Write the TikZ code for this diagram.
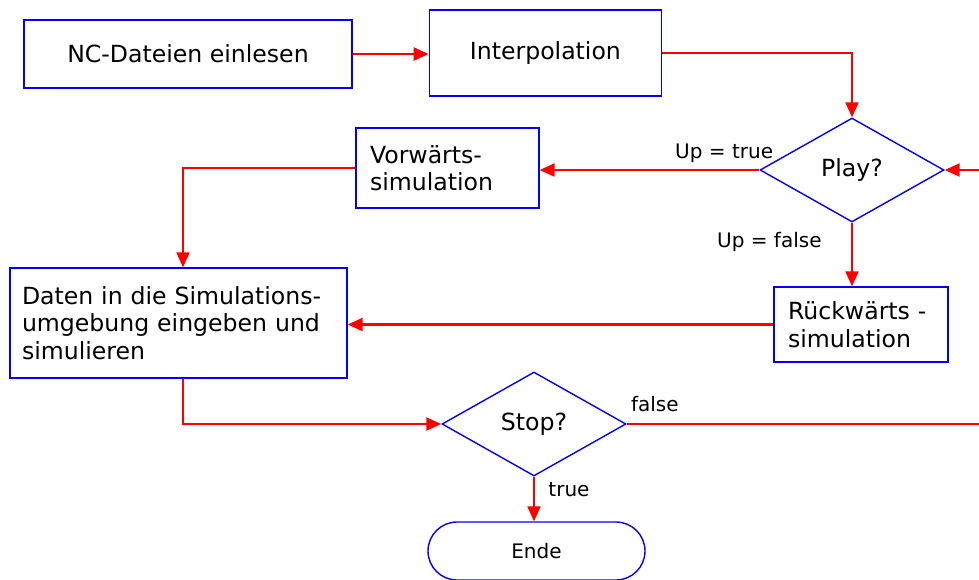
\documentclass[tikz,border=0pt]{standalone}
\usepackage{fontspec}
\setmainfont{DejaVu Sans}
\definecolor{myblue}{RGB}{0, 0, 255}
\definecolor{myred}{RGB}{255, 0, 0}
\usetikzlibrary{arrows.meta, positioning, shapes.geometric}

\tikzset{
	box/.style = {rectangle, draw = myblue, line width = 1.4pt, inner sep = 0pt,
		font = \fontsize{23.6}{27.5}\selectfont},
	decision/.style = {diamond, draw = myblue, line width = 1.4pt, aspect = 1.77,
		inner sep = 0pt, minimum width = 184pt, minimum height = 104pt,
		font = \fontsize{23.6}{27.5}\selectfont},
	flow/.style = {draw = myred, line width = 2.2pt, -{Triangle[length = 15pt, width = 13pt]}},
	lbl/.style = {font = \fontsize{20}{23}\selectfont}
}

\begin{document}
\begin{tikzpicture}[x = 1pt, y = -1pt]
	\useasboundingbox (0, 0) rectangle (979, 580);

	\node[box, minimum width = 328pt, minimum height = 68pt] (nc) at (188, 54) {NC-Dateien einlesen};
	\node[box, minimum width = 232pt, minimum height = 86pt, right = 76pt of nc, yshift = +1pt] (interp) {Interpolation};
	\node[decision] (play) at (852, 170) {Play?};
	\node[box, minimum width = 183pt, minimum height = 80pt, align = left, text width = 155pt] (vor) at (447.5, 168) {Vorwärts-\\simulation};
	\node[box, minimum width = 337pt, minimum height = 110pt, align = left, text width = 313pt] (daten) at (178.5, 323) {Daten in die Simulations-\\umgebung eingeben und\\simulieren};
	\node[box, minimum width = 174pt, minimum height = 75pt, align = left, text width = 146pt] (rueck) at (861, 324.5) {Rückwärts -\\simulation};
	\node[decision] (stop) at (534, 424) {Stop?};
	\node[rectangle, rounded corners = 29pt, draw = myblue, line width = 1.4pt, minimum width = 217pt,
		minimum height = 58pt, font = \fontsize{20}{23}\selectfont] (ende) at (536.5, 551) {Ende};

	\coordinate (playin) at (979, 170);
	\coordinate (stopout) at (979, 424);

	\draw[flow] (nc.east) -- (nc.east -| interp.west);
	\draw[flow] (interp.east) -| (play.north);
	\draw[flow] (playin) -- (play.east);
	\draw[flow] (play.west) -- (play.west -| vor.east) node[lbl, pos = 0.16, above = 3pt] (uptrue) {Up = true};
	\draw[flow] (vor.west) -| ([xshift = 4.5pt]daten.north);
	\draw[flow] (play.south) -- (play.south |- rueck.north) node[lbl, pos = 0.3, left = 26pt] (upfalse) {Up = false};
	\draw[flow] (rueck.west) -- (rueck.west -| daten.east);
	\draw[flow] ([xshift = 4.5pt]daten.south) |- (stop.west);
	\draw[draw = myred, line width = 2.2pt] (stop.east) -- (stopout) node[lbl, pos = 0.08, above = 8pt] (nein) {false};
	\draw[flow] (stop.south) -- (stop.south |- ende.north) node[lbl, pos = 0.3, right = 10pt] (ja) {true};
\end{tikzpicture}
\end{document}
